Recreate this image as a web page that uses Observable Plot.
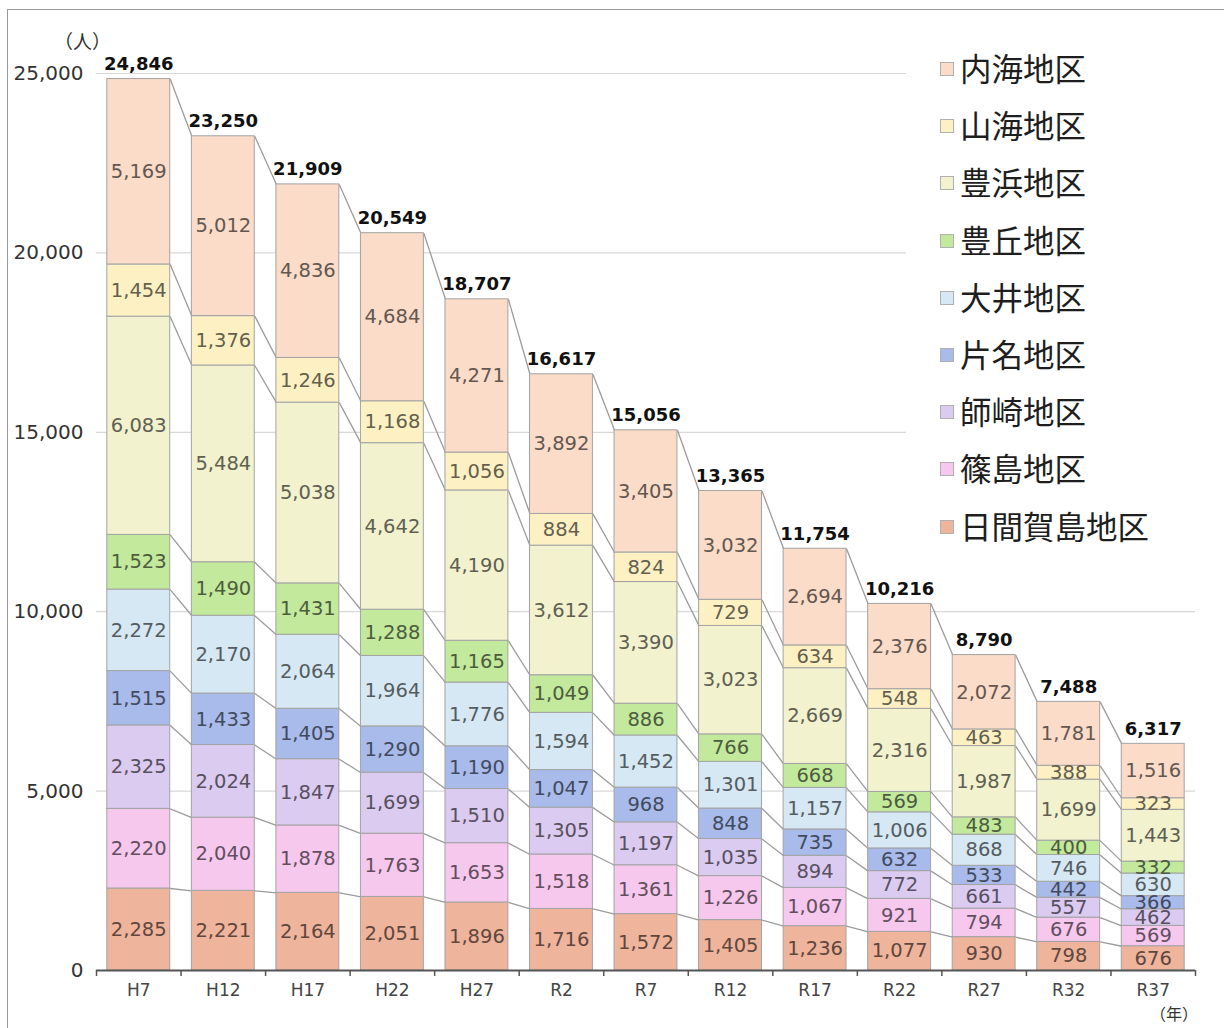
<!DOCTYPE html>
<html>
<head>
<meta charset="utf-8">
<script src="https://cdn.jsdelivr.net/npm/d3@7"></script>
<script src="https://cdn.jsdelivr.net/npm/@observablehq/plot@0.6"></script>
<style>
  html, body { margin: 0; padding: 0; background: #fff; }
  #wrap { position: relative; width: 1224px; height: 1028px; overflow: hidden; font-family: "Noto Sans CJK JP", "Noto Sans", sans-serif; }
  #frame { position: absolute; left: 7px; top: 9px; width: 1300px; height: 1100px; border-left: 1.5px solid #9a9a9a; border-top: 1.5px solid #9a9a9a; }
  #legend { position: absolute; left: 906px; top: 40px; width: 318px; height: 520px; background: #fff; }
  .lrow { position: absolute; left: 34px; height: 40px; display: flex; align-items: center; font-size: 31.5px; color: #1e1e1e; white-space: nowrap; }
  .sw { width: 14px; height: 14px; border: 1px solid #b0b0b0; margin-right: 6px; margin-top: 4px; box-sizing: border-box; }
  .unit { position: absolute; font-size: 19px; color: #333; }
  svg { position: absolute; left: 0; top: 0; }
</style>
</head>
<body>
<div id="wrap"><div id="frame"></div></div>
<script>
const years = ["H7","H12","H17","H22","H27","R2","R7","R12","R17","R22","R27","R32","R37"];
// series from bottom to top
const seriesNames = ["日間賀島地区","篠島地区","師崎地区","片名地区","大井地区","豊丘地区","豊浜地区","山海地区","内海地区"];
const seriesColors = ["#efb49c","#f7c8ee","#dccbf0","#a9bbeb","#d6e8f3","#c3e99c","#f2f2cf","#fdf1c4","#fbdcc9"];
const himakajima = [2285,2221,2164,2051,1896,1716,1572,1405,1236,1077,930,798,676];
const shinojima  = [2220,2040,1878,1763,1653,1518,1361,1226,1067,921,794,676,569];
const morozaki   = [2325,2024,1847,1699,1510,1305,1197,1035,894,772,661,557,462];
const katana     = [1515,1433,1405,1290,1190,1047,968,848,735,632,533,442,366];
const oi         = [2272,2170,2064,1964,1776,1594,1452,1301,1157,1006,868,746,630];
const toyooka    = [1523,1490,1431,1288,1165,1049,886,766,668,569,483,400,332];
const toyohama   = [6083,5484,5038,4642,4190,3612,3390,3023,2669,2316,1987,1699,1443];
const sukai      = [1454,1376,1246,1168,1056,884,824,729,634,548,463,388,323];
const utsumi     = [5169,5012,4836,4684,4271,3892,3405,3032,2694,2376,2072,1781,1516];
const totals     = [24846,23250,21909,20549,18707,16617,15056,13365,11754,10216,8790,7488,6317];
const yTicks = [0,5000,10000,15000,20000,25000];

const seriesValues = [himakajima, shinojima, morozaki, katana, oi, toyooka, toyohama, sukai, utsumi];

const half = 0.372;
const segs = [];
years.forEach((yr, i) => {
  let c = 0;
  seriesValues.forEach((vals, s) => {
    const v = vals[i];
    segs.push({i, s, v, y0: c, y1: c + v});
    c += v;
  });
});
const links = [];
for (let i = 0; i < years.length - 1; i++) {
  let a = 0, b = 0;
  seriesValues.forEach((vals) => {
    a += vals[i]; b += vals[i + 1];
    links.push({x1: i + half, y1: a, x2: i + 1 - half, y2: b});
  });
}
const totalData = years.map((yr, i) => ({i, t: totals[i]}));
const fmt = d3.format(",");
const darkColors = seriesColors.map(c => d3.color(c).darker(2.6).formatHex());
const numFont = "'DejaVu Sans', 'Noto Sans', sans-serif";

const chart = Plot.plot({
  width: 1224,
  height: 1028,
  marginLeft: 96,
  marginRight: 29,
  marginTop: 73,
  marginBottom: 58,
  x: {type: "linear", domain: [-0.5, years.length - 0.5], axis: null},
  y: {type: "linear", domain: [0, 25000], axis: null},
  style: {fontFamily: numFont, background: "transparent", overflow: "visible"},
  marks: [
    Plot.ruleY(yTicks.filter(d => d > 0), {stroke: "#d8d8d8", strokeWidth: 1.2}),
    Plot.axisY({ticks: yTicks, tickSize: 0, tickPadding: 13, tickFormat: fmt, fontSize: 20, color: "#333"}),
    Plot.link(links, {x1: "x1", y1: "y1", x2: "x2", y2: "y2", stroke: "#9c9c9c", strokeWidth: 1.3}),
    Plot.rectY(segs, {x1: d => d.i - half, x2: d => d.i + half, y1: "y0", y2: "y1", fill: d => seriesColors[d.s], stroke: "#a3a3a3", strokeWidth: 1}),
    Plot.text(segs, {x: "i", y: d => (d.y0 + d.y1) / 2, text: d => fmt(d.v), fill: d => darkColors[d.s], fontSize: 19.5}),
    Plot.text(totalData, {x: "i", y: "t", text: d => fmt(d.t), lineAnchor: "bottom", dy: -9, fontSize: 18, fontWeight: "bold", fill: "#111"}),
    Plot.ruleY([0], {stroke: "#555", strokeWidth: 2}),
    Plot.axisX({ticks: d3.range(-0.5, years.length, 1), tickSize: 6, tickFormat: () => "", stroke: "#555", strokeWidth: 1.5}),
    Plot.axisX({ticks: d3.range(years.length), tickSize: 0, tickPadding: 13, tickFormat: i => years[i], fontSize: 17, color: "#444"})
  ]
});
document.getElementById("wrap").appendChild(chart);

// Legend
const legend = document.createElement("div");
legend.id = "legend";
const order = d3.range(seriesNames.length).reverse();
order.forEach((s, k) => {
  const row = document.createElement("div");
  row.className = "lrow";
  row.style.top = (7 + k * 57.2) + "px";
  const sw = document.createElement("div");
  sw.className = "sw";
  sw.style.background = seriesColors[s];
  const t = document.createElement("span");
  t.textContent = seriesNames[s];
  row.appendChild(sw); row.appendChild(t);
  legend.appendChild(row);
});
document.getElementById("wrap").appendChild(legend);

const u1 = document.createElement("div");
u1.className = "unit"; u1.textContent = "（人）";
u1.style.left = "54px"; u1.style.top = "27px";
document.getElementById("wrap").appendChild(u1);
const u2 = document.createElement("div");
u2.className = "unit"; u2.textContent = "（年）"; u2.style.fontSize = "16px";
u2.style.left = "1150px"; u2.style.top = "1001px";
document.getElementById("wrap").appendChild(u2);
</script>
</body>
</html>
